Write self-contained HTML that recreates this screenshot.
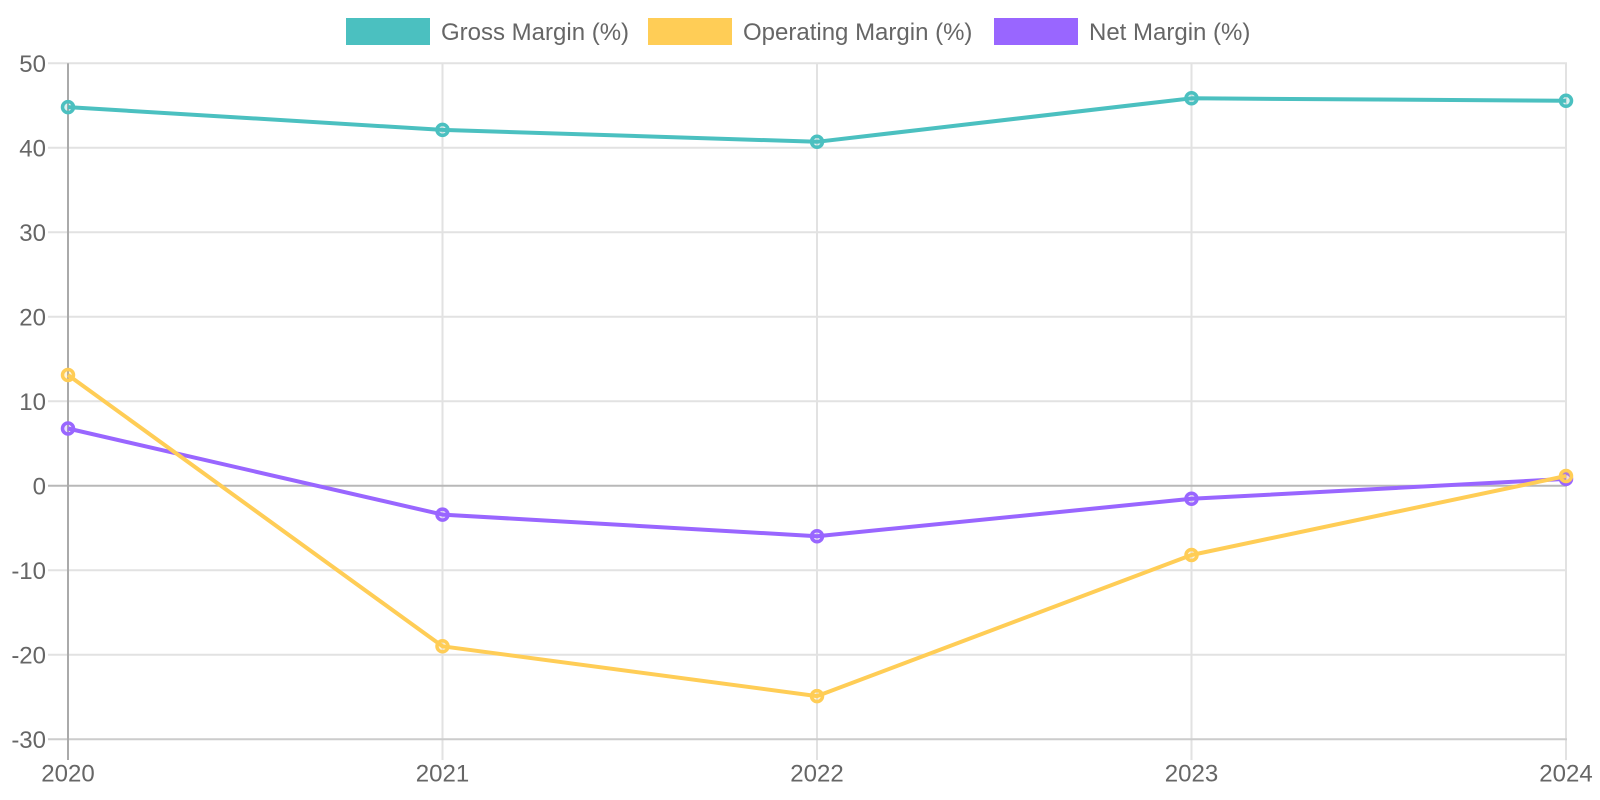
<!DOCTYPE html>
<html>
<head>
<meta charset="utf-8">
<style>
html,body{margin:0;padding:0;background:#fff;}
svg{display:block;}
text{font-family:"Liberation Sans",Arial,sans-serif;font-size:24px;fill:#666;}
</style>
</head>
<body>
<svg width="1600" height="800" viewBox="0 0 1600 800" xmlns="http://www.w3.org/2000/svg">
  <!-- horizontal grid -->
  <g stroke="#e2e2e2" stroke-width="2">
    <line x1="48" y1="63.2" x2="1567" y2="63.2"/>
    <line x1="48" y1="147.7" x2="1567" y2="147.7"/>
    <line x1="48" y1="232.2" x2="1567" y2="232.2"/>
    <line x1="48" y1="316.7" x2="1567" y2="316.7"/>
    <line x1="48" y1="401.2" x2="1567" y2="401.2"/>
    <line x1="48" y1="570.2" x2="1567" y2="570.2"/>
    <line x1="48" y1="654.7" x2="1567" y2="654.7"/>
  </g>
  <!-- vertical grid -->
  <g stroke="#e2e2e2" stroke-width="2">
    <line x1="442.5" y1="63.2" x2="442.5" y2="760"/>
    <line x1="817" y1="63.2" x2="817" y2="760"/>
    <line x1="1191.5" y1="63.2" x2="1191.5" y2="760"/>
    <line x1="1566" y1="63.2" x2="1566" y2="760"/>
  </g>
  <!-- zero line -->
  <line x1="48" y1="485.7" x2="1567" y2="485.7" stroke="#b8b8b8" stroke-width="2"/>
  <!-- x axis border -->
  <line x1="48" y1="739.2" x2="1567" y2="739.2" stroke="#cccccc" stroke-width="2"/>
  <!-- y axis border -->
  <line x1="68" y1="63.2" x2="68" y2="760" stroke="#aaaaaa" stroke-width="2"/>

  <!-- y labels -->
  <g text-anchor="end">
    <text x="46" y="71.8">50</text>
    <text x="46" y="156.3">40</text>
    <text x="46" y="240.8">30</text>
    <text x="46" y="325.3">20</text>
    <text x="46" y="409.8">10</text>
    <text x="46" y="494.3">0</text>
    <text x="46" y="578.8">-10</text>
    <text x="46" y="663.3">-20</text>
    <text x="46" y="747.8">-30</text>
  </g>
  <!-- x labels -->
  <g text-anchor="middle">
    <text x="68" y="781.5">2020</text>
    <text x="442.5" y="781.5">2021</text>
    <text x="817" y="781.5">2022</text>
    <text x="1191.5" y="781.5">2023</text>
    <text x="1566" y="781.5">2024</text>
  </g>

  <!-- Net margin -->
  <g>
    <polyline fill="none" stroke="#9966FF" stroke-width="4" stroke-linejoin="round"
      points="68,428.5 442.5,514.6 817,536.2 1191.5,498.8 1566,478.9"/>
    <g fill="rgba(153,102,255,0.2)" stroke="#9966FF" stroke-width="3.5">
      <circle cx="68" cy="428.5" r="5.5"/>
      <circle cx="442.5" cy="514.6" r="5.5"/>
      <circle cx="817" cy="536.2" r="5.5"/>
      <circle cx="1191.5" cy="498.8" r="5.5"/>
      <circle cx="1566" cy="478.9" r="5.5"/>
    </g>
  </g>
  <!-- Operating margin -->
  <g>
    <polyline fill="none" stroke="#FFCD56" stroke-width="4" stroke-linejoin="round"
      points="68,375 442.5,646.3 817,696.1 1191.5,555 1566,476"/>
    <g fill="rgba(255,205,86,0.2)" stroke="#FFCD56" stroke-width="3.5">
      <circle cx="68" cy="375" r="5.5"/>
      <circle cx="442.5" cy="646.3" r="5.5"/>
      <circle cx="817" cy="696.1" r="5.5"/>
      <circle cx="1191.5" cy="555" r="5.5"/>
      <circle cx="1566" cy="476" r="5.5"/>
    </g>
  </g>
  <!-- Gross margin -->
  <g>
    <polyline fill="none" stroke="#4BC0C0" stroke-width="4" stroke-linejoin="round"
      points="68,107.1 442.5,129.9 817,141.8 1191.5,98.3 1566,100.8"/>
    <g fill="rgba(75,192,192,0.2)" stroke="#4BC0C0" stroke-width="3.5">
      <circle cx="68" cy="107.1" r="5.5"/>
      <circle cx="442.5" cy="129.9" r="5.5"/>
      <circle cx="817" cy="141.8" r="5.5"/>
      <circle cx="1191.5" cy="98.3" r="5.5"/>
      <circle cx="1566" cy="100.8" r="5.5"/>
    </g>
  </g>

  <!-- legend -->
  <rect x="346" y="18" width="84" height="27" fill="#4BC0C0"/>
  <text x="441" y="40">Gross Margin (%)</text>
  <rect x="648" y="18" width="84" height="27" fill="#FFCD56"/>
  <text x="743" y="40">Operating Margin (%)</text>
  <rect x="994" y="18" width="84" height="27" fill="#9966FF"/>
  <text x="1089" y="40">Net Margin (%)</text>
</svg>
</body>
</html>
